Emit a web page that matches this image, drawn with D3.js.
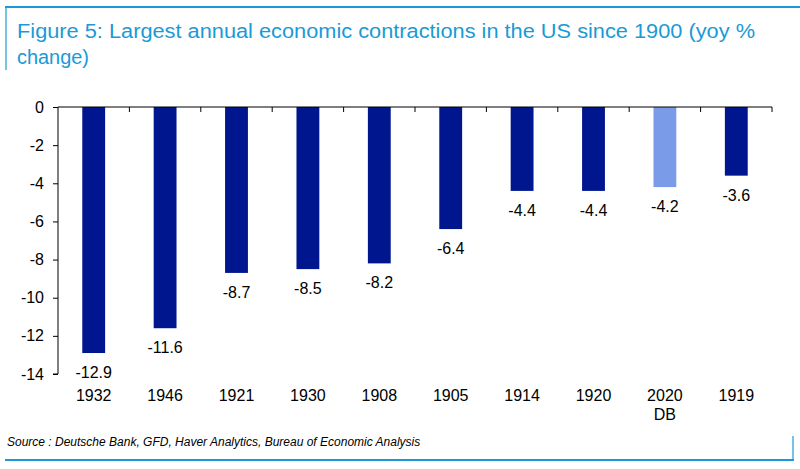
<!DOCTYPE html>
<html>
<head>
<meta charset="utf-8">
<script src="https://cdn.jsdelivr.net/npm/d3@7"></script>
<style>
  body { margin: 0; background: #fff; }
  svg { display: block; font-family: Arial, "Liberation Sans", sans-serif; }
</style>
</head>
<body>
<div id="chart"></div>
<script>
// data
var years   = ["1932", "1946", "1921", "1930", "1908", "1905", "1914", "1920", "2020", "1919"];
var subLbls = ["", "", "", "", "", "", "", "", "DB", ""];
var growth  = [-12.9, -11.6, -8.7, -8.5, -8.2, -6.4, -4.4, -4.4, -4.2, -3.6];
var yTicks  = [0, -2, -4, -6, -8, -10, -12, -14];

var width = 800, height = 469;
var blue = "#1a9ad6";
var dark = "#00168f", light = "#7a9ce8";

var svg = d3.select("#chart").append("svg")
  .attr("width", width)
  .attr("height", height);

// frame lines
svg.append("line").attr("x1", 5).attr("x2", 800).attr("y1", 7).attr("y2", 7)
  .attr("stroke", blue).attr("stroke-width", 2);
svg.append("line").attr("x1", 6).attr("x2", 6).attr("y1", 7).attr("y2", 70)
  .attr("stroke", blue).attr("stroke-width", 1.2);
svg.append("line").attr("x1", 5).attr("x2", 794).attr("y1", 460).attr("y2", 460)
  .attr("stroke", blue).attr("stroke-width", 2);
svg.append("line").attr("x1", 793).attr("x2", 793).attr("y1", 436).attr("y2", 460)
  .attr("stroke", blue).attr("stroke-width", 1.2);

// title
svg.append("text").attr("x", 17).attr("y", 38)
  .attr("fill", blue).style("font-size", "20px")
  .attr("textLength", 738).attr("lengthAdjust", "spacingAndGlyphs")
  .text("Figure 5: Largest annual economic contractions in the US since 1900 (yoy %");
svg.append("text").attr("x", 17).attr("y", 64)
  .attr("fill", blue).style("font-size", "20px")
  .attr("textLength", 72).attr("lengthAdjust", "spacingAndGlyphs")
  .text("change)");

var x = d3.scaleBand().domain(years).range([58, 772]).paddingInner(0.68).paddingOuter(0.34);
var y = d3.scaleLinear().domain([-14, 0]).range([374, 107]);

var g = svg.append("g");

// bars
g.selectAll("rect.bar").data(growth).enter().append("rect")
  .attr("class", "bar")
  .attr("x", function(d, i) { return x(years[i]); })
  .attr("y", y(0))
  .attr("width", x.bandwidth())
  .attr("height", function(d) { return y(d) - y(0); })
  .attr("fill", function(d, i) { return years[i] == "2020" ? light : dark; });

// value labels
g.selectAll("text.val").data(growth).enter().append("text")
  .attr("class", "val")
  .attr("x", function(d, i) { return x(years[i]) + x.bandwidth() / 2; })
  .attr("y", function(d) { return y(d) + 25; })
  .attr("text-anchor", "middle")
  .style("font-size", "16px")
  .text(function(d) { return d.toFixed(1); });

// y axis
var yAxis = d3.axisLeft(y).tickValues(yTicks).tickSize(5).tickPadding(9).tickFormat(d3.format("d"));
var ya = svg.append("g").attr("transform", "translate(58,0)").call(yAxis);
ya.select(".domain").attr("stroke", "#000").attr("d", "M-5," + y(-14) + "H0V" + y(0));
ya.selectAll("text").style("font-size", "16px").attr("fill", "#000")
  .text(function(d) { return d == 0 ? "0" : "-" + Math.abs(d); });

// zero line with category boundary ticks
var bounds = years.map(function(d) { return x(d) - x.step() * x.paddingInner() / 2 + x.step(); });
svg.append("line").attr("x1", 58).attr("x2", 772).attr("y1", y(0)).attr("y2", y(0))
  .attr("stroke", "#000").attr("stroke-width", 1.2);
svg.selectAll("line.xt").data(bounds).enter().append("line")
  .attr("class", "xt")
  .attr("x1", function(d) { return d; }).attr("x2", function(d) { return d; })
  .attr("y1", y(0)).attr("y2", y(0) + 5)
  .attr("stroke", "#000");

// category labels
svg.selectAll("text.cat").data(years).enter().append("text")
  .attr("class", "cat")
  .attr("x", function(d) { return x(d) + x.bandwidth() / 2; })
  .attr("y", 401)
  .attr("text-anchor", "middle")
  .style("font-size", "16px")
  .text(function(d) { return d; });
svg.selectAll("text.sub").data(subLbls).enter().append("text")
  .attr("class", "sub")
  .attr("x", function(d, i) { return x(years[i]) + x.bandwidth() / 2; })
  .attr("y", 420)
  .attr("text-anchor", "middle")
  .style("font-size", "16px")
  .text(function(d) { return d; });

// source
svg.append("text").attr("x", 7).attr("y", 446)
  .style("font-size", "12px").style("font-style", "italic")
  .text("Source : Deutsche Bank, GFD, Haver Analytics, Bureau of Economic Analysis");
</script>
</body>
</html>
